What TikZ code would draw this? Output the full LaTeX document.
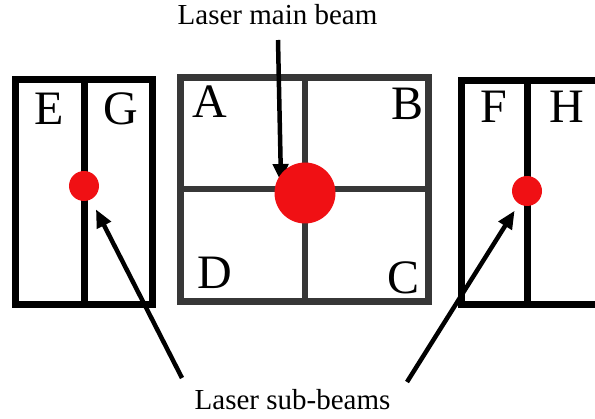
\documentclass[tikz,border=0pt]{standalone}
\usepackage{fontspec}
\setmainfont{Liberation Serif}
\usetikzlibrary{arrows.meta}
\definecolor{spot}{RGB}{240,16,20}
\definecolor{quadgray}{RGB}{55,55,55}

\begin{document}
\begin{tikzpicture}[x=1pt, y=-1pt,
                det/.style={line width=7pt},
                quad/.style={line width=6.5pt, draw=quadgray},
                lt/.style={font=\fontsize{48}{48}\selectfont, inner sep=0pt},
                lbl/.style={font=\fontsize{29}{29}\selectfont, inner sep=0pt, anchor=base},
                beamspot/.style={circle, fill=spot, inner sep=0pt, minimum size=#1},
                beam/.style={line width=4.5pt, -{Triangle[length=18pt, width=15pt]}}]

            \useasboundingbox (0,0) rectangle (595,419);
            \clip (0,0) rectangle (595,419);

            % left detector
            \draw[det] (15.5,80) rectangle (152.5,304.5);
            \draw[det] (84,80) -- (84,304.5);
            \node[lt] (e) at (49.5,109) {E};
            \node[lt] (g) at (121,109) {G};

            % quadrant detector
            \draw[quad] (180.3,77.3) rectangle (428.7,301.7);
            \draw[quad] (305,77.3) -- (305,301.7);
            \draw[quad] (180.3,189) -- (428.7,189);
            \node[lt] (a) at (210,102) {A};
            \node[lt] (b) at (407.5,103.5) {B};
            \node[lt] (d) at (215,272.5) {D};
            \node[lt] (c) at (403.5,277.5) {C};

            % right detector
            \draw[det] (461.5,80.5) rectangle (640,304.5);
            \draw[det] (527,80.5) -- (527,304.5);
            \node[lt] (f) at (494,107) {F};
            \node[lt] (h) at (566.5,107) {H};

            % labels
            \node[lbl] (mainlbl) at (277.5,25) {Laser main beam};
            \node[lbl] (sublbl) at (292.5,410) {Laser sub-beams};

            % main arrow goes under the spot
            \coordinate (mtail) at (278,40);
            \coordinate (mtip) at (281,182);
            \draw[beam] (mtail) -- (mtip);

            % spots
            \node[beamspot=61pt] (main) at (305,193) {};
            \node[beamspot=30pt] (eg) at (84,186) {};
            \node[beamspot=30pt] (fh) at (527,191) {};

            % sub-beam arrows
            \coordinate (ltail) at (182,378);
            \coordinate (rtail) at (407,382);
            \draw[beam, shorten >=11pt] (ltail) -- (eg);
            \draw[beam, shorten >=8pt] (rtail) -- (fh);

        \end{tikzpicture}
\end{document}
